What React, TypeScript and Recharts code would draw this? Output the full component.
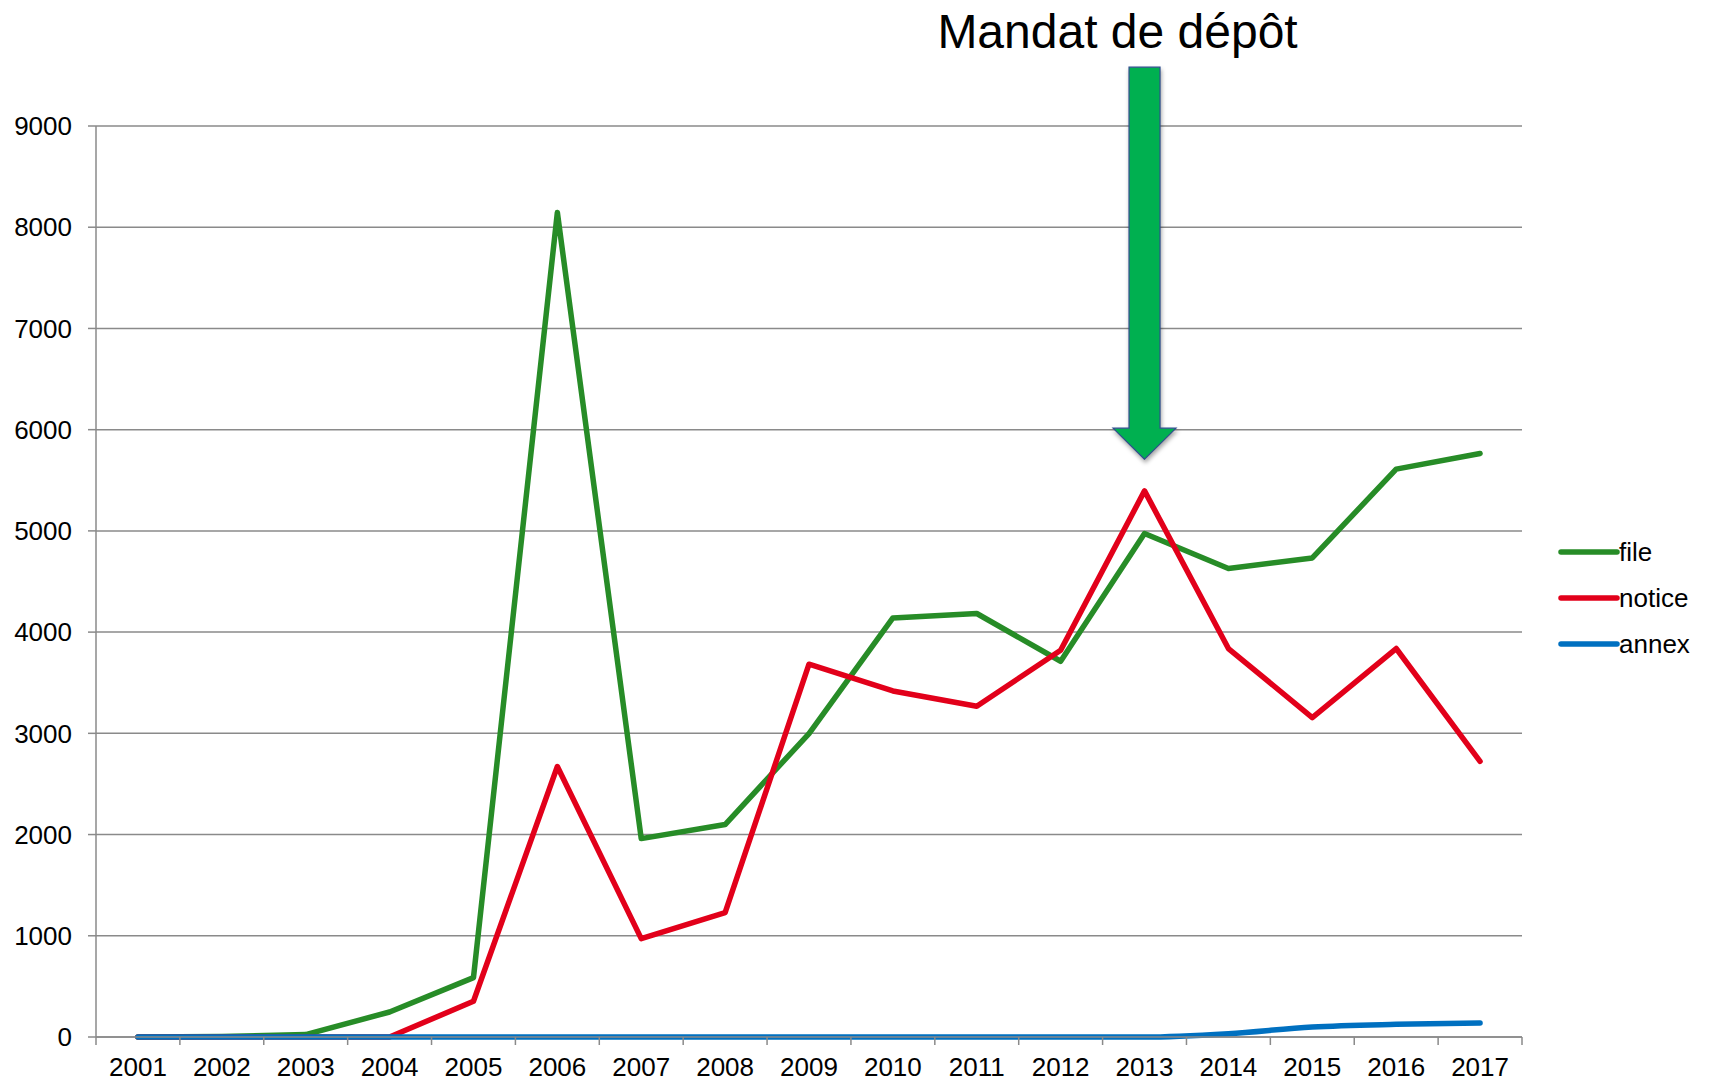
import React from 'react';
import { LineChart, Line, XAxis, YAxis, CartesianGrid, Legend, ReferenceDot } from 'recharts';

const years = ['2001', '2002', '2003', '2004', '2005', '2006', '2007', '2008', '2009', '2010', '2011', '2012', '2013', '2014', '2015', '2016', '2017'];
const fileValues = [0, 5, 24, 247, 587, 8146, 1960, 2099, 2998, 4140, 4184, 3712, 4974, 4628, 4733, 5610, 5765];
const noticeValues = [0, 0, 0, 0, 353, 2672, 972, 1229, 3683, 3419, 3268, 3821, 5395, 3838, 3156, 3838, 2724];
const annexValues = [0, 0, 0, 0, 0, 0, 0, 0, 0, 0, 0, 0, 0, 33, 99, 125, 138];
const yTicks = [0, 1000, 2000, 3000, 4000, 5000, 6000, 7000, 8000, 9000];

const seriesNames = ['file', 'notice', 'annex'];
const seriesColors = ['#278C27', '#E2001A', '#0070C0'];

const annotationLabel = 'Mandat de dépôt';
const annotationYear = '2013';
const annotationValue = 5708;

const data = years.map((y, i) => ({
  year: y,
  file: fileValues[i],
  notice: noticeValues[i],
  annex: annexValues[i],
}));

const FONT = 'Liberation Sans, Arial, Helvetica, sans-serif';
const AXIS_GRAY = '#8a8a8a';
const LABEL_SIZE = 26;
const LINE_W = 5.5;

const XTick = (props: any) => {
  const { x, y, payload, index, visibleTicksCount, width } = props;
  const count = visibleTicksCount || years.length;
  const bw = typeof width === 'number' && width > 0 ? width / count : 1426 / 17;
  return (
    <g>
      <line x1={x - bw / 2} x2={x - bw / 2} y1={y} y2={y + 8} stroke={AXIS_GRAY} strokeWidth={1.5} />
      {index === count - 1 && (
        <line x1={x + bw / 2} x2={x + bw / 2} y1={y} y2={y + 8} stroke={AXIS_GRAY} strokeWidth={1.5} />
      )}
      <text x={x} y={y + 39} textAnchor="middle" fontSize={LABEL_SIZE} fill="#000" fontFamily={FONT}>
        {payload.value}
      </text>
    </g>
  );
};

const ArrowShape = (props: any) => {
  const { cx, cy } = props;
  if (typeof cx !== 'number' || typeof cy !== 'number') return null;
  const headH = 31;
  const headHalf = 31.5;
  const shaftHalf = 15.5;
  const shaftTop = cy - 392;
  const pts = [
    [cx, cy],
    [cx - headHalf, cy - headH],
    [cx - shaftHalf, cy - headH],
    [cx - shaftHalf, shaftTop],
    [cx + shaftHalf, shaftTop],
    [cx + shaftHalf, cy - headH],
    [cx + headHalf, cy - headH],
  ]
    .map((p) => p.join(','))
    .join(' ');
  return (
    <g>
      <text x={cx - 27} y={cy - 411.5} textAnchor="middle" fontSize={48} fill="#000" fontFamily={FONT}>
        {annotationLabel}
      </text>
      <polygon
        points={pts}
        fill="#00B050"
        stroke="#2F4F8F"
        strokeWidth={1.2}
        style={{ filter: 'drop-shadow(1px 3px 2px rgba(0,0,0,0.35))' }}
      />
    </g>
  );
};

const renderLegend = () => (
  <svg width={157} height={140} style={{ display: 'block' }}>
    {seriesNames.map((name, i) => {
      const cy = 32 + i * 46;
      return (
        <g key={name}>
          <line x1={6} x2={62} y1={cy} y2={cy} stroke={seriesColors[i]} strokeWidth={LINE_W} strokeLinecap="round" />
          <text x={64} y={cy + 9} fontSize={LABEL_SIZE} fill="#000" fontFamily={FONT}>
            {name}
          </text>
        </g>
      );
    })}
  </svg>
);

export default function App() {
  return (
    <div style={{ position: 'absolute', left: 0, top: 0, width: 1712, height: 1083, background: '#fff' }}>
      <LineChart
        width={1712}
        height={1083}
        data={data}
        margin={{ top: 126, right: 190, bottom: 0, left: 0 }}
        style={{ fontFamily: FONT }}
      >
        <CartesianGrid vertical={false} stroke={AXIS_GRAY} strokeWidth={1.5} />
        <XAxis
          dataKey="year"
          scale="band"
          interval={0}
          height={46}
          tickSize={0}
          tickMargin={0}
          tickLine={false}
          axisLine={{ stroke: AXIS_GRAY, strokeWidth: 1.5 }}
          tick={<XTick />}
        />
        <YAxis
          width={96}
          domain={[0, 9000]}
          ticks={yTicks}
          interval={0}
          tickSize={8}
          tickMargin={16}
          axisLine={{ stroke: AXIS_GRAY, strokeWidth: 1.5 }}
          tickLine={{ stroke: AXIS_GRAY, strokeWidth: 1.5 }}
          tick={{ fontSize: LABEL_SIZE, fill: '#000', fontFamily: FONT }}
        />
        <Legend
          layout="vertical"
          align="center"
          verticalAlign="middle"
          content={renderLegend}
          wrapperStyle={{ left: 1555, top: 520, width: 157, height: 140 }}
        />
        <Line
          type="linear"
          dataKey="file"
          name={seriesNames[0]}
          stroke={seriesColors[0]}
          strokeWidth={LINE_W}
          dot={false}
          activeDot={false}
          strokeLinecap="round"
          strokeLinejoin="round"
          isAnimationActive={false}
        />
        <Line
          type="linear"
          dataKey="notice"
          name={seriesNames[1]}
          stroke={seriesColors[1]}
          strokeWidth={LINE_W}
          dot={false}
          activeDot={false}
          strokeLinecap="round"
          strokeLinejoin="round"
          isAnimationActive={false}
        />
        <Line
          type="monotone"
          dataKey="annex"
          name={seriesNames[2]}
          stroke={seriesColors[2]}
          strokeWidth={LINE_W}
          dot={false}
          activeDot={false}
          strokeLinecap="round"
          strokeLinejoin="round"
          isAnimationActive={false}
        />
        <ReferenceDot
          x={annotationYear}
          y={annotationValue}
          ifOverflow="visible"
          shape={ArrowShape}
        />
      </LineChart>
    </div>
  );
}
